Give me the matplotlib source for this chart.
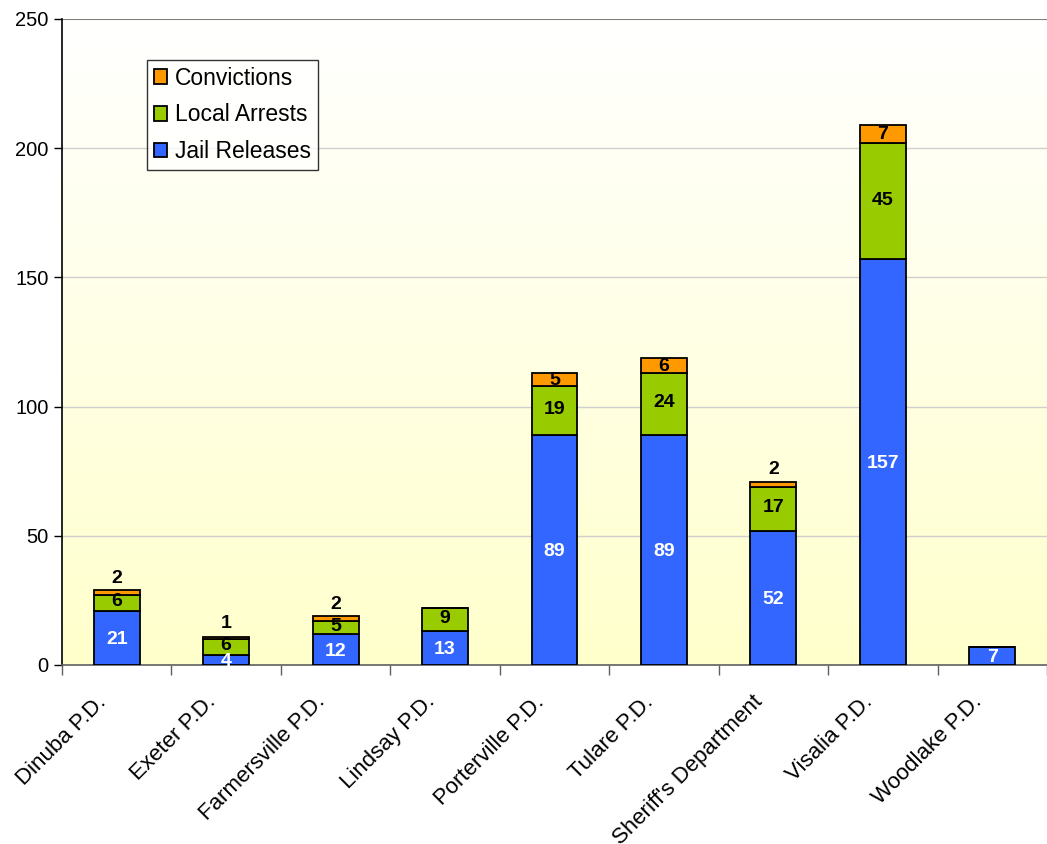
import numpy as np
import matplotlib.pyplot as plt
import matplotlib.transforms as mtransforms
from matplotlib.colors import LinearSegmentedColormap

plt.rcParams["font.family"] = ["Liberation Sans", "DejaVu Sans"]

# data
agencies = ["Dinuba P.D.", "Exeter P.D.", "Farmersville P.D.", "Lindsay P.D.",
            "Porterville P.D.", "Tulare P.D.", "Sheriff's Department",
            "Visalia P.D.", "Woodlake P.D."]
jail_releases = [21, 4, 12, 13, 89, 89, 52, 157, 7]
local_arrests = [6, 6, 5, 9, 19, 24, 17, 45, 0]
convictions = [2, 1, 2, 0, 5, 6, 2, 7, 0]

blue = "#3366FF"
green = "#99CC00"
orange = "#FF9900"

fig = plt.figure(figsize=(10.47, 8.44), dpi=100)
ax = fig.add_axes([62 / 1047, 1 - 665 / 844, 1 - 62 / 1047, (665 - 19) / 844])

x = np.arange(len(agencies))
ax.set_xlim(-0.5, len(agencies) - 0.5)
ax.set_ylim(0, 250)

# background gradient, white at top to pale yellow at bottom
cmap = LinearSegmentedColormap.from_list("bg", ["#FFFFCC", "#FFFFFF"])
grad = np.linspace(0, 1, 256).reshape(-1, 1)
ax.imshow(grad, aspect="auto", cmap=cmap, origin="lower",
          extent=[-0.5, len(agencies) - 0.5, 0, 250], zorder=0)

ax.set_yticks([0, 50, 100, 150, 200, 250])
for yv in [50, 100, 150, 200]:
    ax.axhline(yv, color="#CFCFCF", linewidth=1, zorder=1)
ax.axhline(250, color="#808080", linewidth=1.5, zorder=1)

w = 0.42
jr = np.array(jail_releases)
la = np.array(local_arrests)
cv = np.array(convictions)

b1 = ax.bar(x, jr, w, color=blue, edgecolor="black", linewidth=1.3,
            label="Jail Releases", zorder=3)
b2 = ax.bar(x, la, w, bottom=jr, color=green, edgecolor="black", linewidth=1.3,
            label="Local Arrests", zorder=3)
b3 = ax.bar(x, cv, w, bottom=jr + la, color=orange, edgecolor="black",
            linewidth=1.3, label="Convictions", zorder=3)

fs = 14
for i in range(len(agencies)):
    if jr[i] > 0:
        ax.text(x[i], jr[i] / 2 - 0.6, str(jr[i]), ha="center", va="center",
                color="white", fontsize=fs, fontweight="bold", zorder=4)
    if la[i] > 0:
        ax.text(x[i], jr[i] + la[i] / 2 + 0.4, str(la[i]), ha="center",
                va="center", color="black", fontsize=fs, fontweight="bold",
                zorder=4)
    if cv[i] > 0:
        # small segments get their label just above the bar
        if cv[i] >= 4:
            ax.text(x[i], jr[i] + la[i] + cv[i] / 2 - 0.3, str(cv[i]),
                    ha="center", va="center", color="black", fontsize=fs,
                    fontweight="bold", zorder=4)
        else:
            ax.text(x[i], jr[i] + la[i] + cv[i] / 2 + 5.6, str(cv[i]),
                    ha="center", va="center", color="black", fontsize=fs,
                    fontweight="bold", zorder=4)

# axes styling
for s in ["top", "right"]:
    ax.spines[s].set_visible(False)
ax.spines["left"].set_color("black")
ax.spines["left"].set_linewidth(1.2)
ax.spines["bottom"].set_color("#606060")
ax.spines["bottom"].set_linewidth(1.2)

ax.tick_params(axis="y", labelsize=14.5, length=6, width=1, direction="out")
ax.set_xticks(x)
ax.set_xticklabels(agencies, rotation=45, ha="right", rotation_mode="anchor",
                   fontsize=16)
ax.tick_params(axis="x", which="major", length=0, pad=19)
offset = mtransforms.ScaledTranslation(-21 / 100, 0, fig.dpi_scale_trans)
for lab in ax.get_xticklabels():
    lab.set_transform(lab.get_transform() + offset)
ax.set_xticks(np.arange(-0.5, len(agencies), 1.0), minor=True)
ax.tick_params(axis="x", which="minor", length=7, width=1, color="#606060")

handles = [b3, b2, b1]
leg = ax.legend(handles, [h.get_label() for h in handles],
                loc="upper left", bbox_to_anchor=(0.086, 0.937),
                borderaxespad=0, fontsize=16.5, frameon=True, fancybox=False,
                edgecolor="black", handlelength=0.6, handleheight=0.6,
                handletextpad=0.35, labelspacing=0.6, borderpad=0.3)
leg.get_frame().set_linewidth(1)
leg.set_zorder(5)

fig.savefig("out.png", dpi=100)
